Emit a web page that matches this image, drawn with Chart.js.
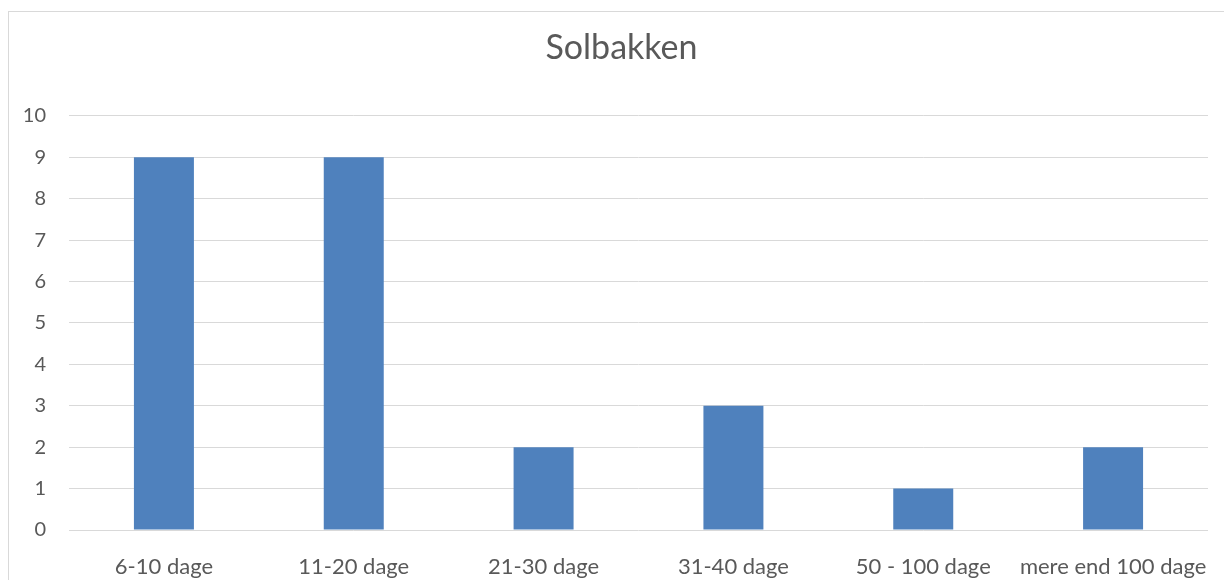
<!DOCTYPE html>
<html>
<head>
<meta charset="utf-8">
<script src="https://cdn.jsdelivr.net/npm/chart.js@4"></script>
<style>
  html, body { margin: 0; padding: 0; background: #fff; }
  #wrap { position: relative; width: 1224px; height: 580px; overflow: hidden; }
  #frame { position: absolute; left: 8px; top: 11px; width: 1240px; height: 600px; border: 1px solid #d9d9d9; box-sizing: border-box; }
  canvas { position: absolute; left: 0; top: 0; }
</style>
</head>
<body>
<div id="wrap">
  <div id="frame"></div>
  <canvas id="chart" width="1259" height="580"></canvas>
</div>
<script>
const categories = ['6-10 dage', '11-20 dage', '21-30 dage', '31-40 dage', '50 - 100 dage', 'mere end 100 dage'];
const values = [9, 9, 2, 3, 1, 2];
const yTicks = [0, 1, 2, 3, 4, 5, 6, 7, 8, 9, 10];

const textColor = '#595959';
const gridColor = '#d9d9d9';
const fontFamily = 'Lato, Carlito, Calibri, sans-serif';

const ctx = document.getElementById('chart');
new Chart(ctx, {
  type: 'bar',
  data: {
    labels: categories,
    datasets: [{
      label: 'Solbakken',
      data: values,
      backgroundColor: '#4f81bd',
      borderWidth: 0,
      categoryPercentage: 1,
      barPercentage: 0.316
    }]
  },
  options: {
    responsive: false,
    animation: false,
    // canvas runs a bit past the frame so the title sits centred like the original
    layout: { padding: { left: 0, right: 16, top: 0, bottom: 0 } },
    plugins: {
      legend: { display: false },
      tooltip: { enabled: false },
      title: {
        display: true,
        text: 'Solbakken',
        color: textColor,
        font: { family: fontFamily, size: 34, weight: 'normal' },
        padding: { top: 28, bottom: 47 }
      }
    },
    scales: {
      x: {
        grid: { display: false },
        border: { display: false },
        ticks: {
          color: textColor,
          font: { family: fontFamily, size: 22 },
          padding: 16,
          maxRotation: 0,
          autoSkip: false
        },
        afterFit: s => { s.height = 50; }
      },
      y: {
        min: 0,
        max: 10,
        afterBuildTicks: s => { s.ticks = yTicks.map(v => ({ value: v })); },
        grid: { color: gridColor, lineWidth: 1, drawTicks: false },
        border: { display: false },
        ticks: {
          color: textColor,
          font: { family: fontFamily, size: 20 },
          padding: 23
        },
        afterFit: s => { s.width = 69; }
      },
      // empty spacer on the right
      y2: {
        type: 'linear',
        position: 'right',
        grid: { display: false },
        border: { display: false },
        ticks: { display: false },
        afterFit: s => { s.width = 35; }
      }
    }
  }
});
</script>
</body>
</html>
